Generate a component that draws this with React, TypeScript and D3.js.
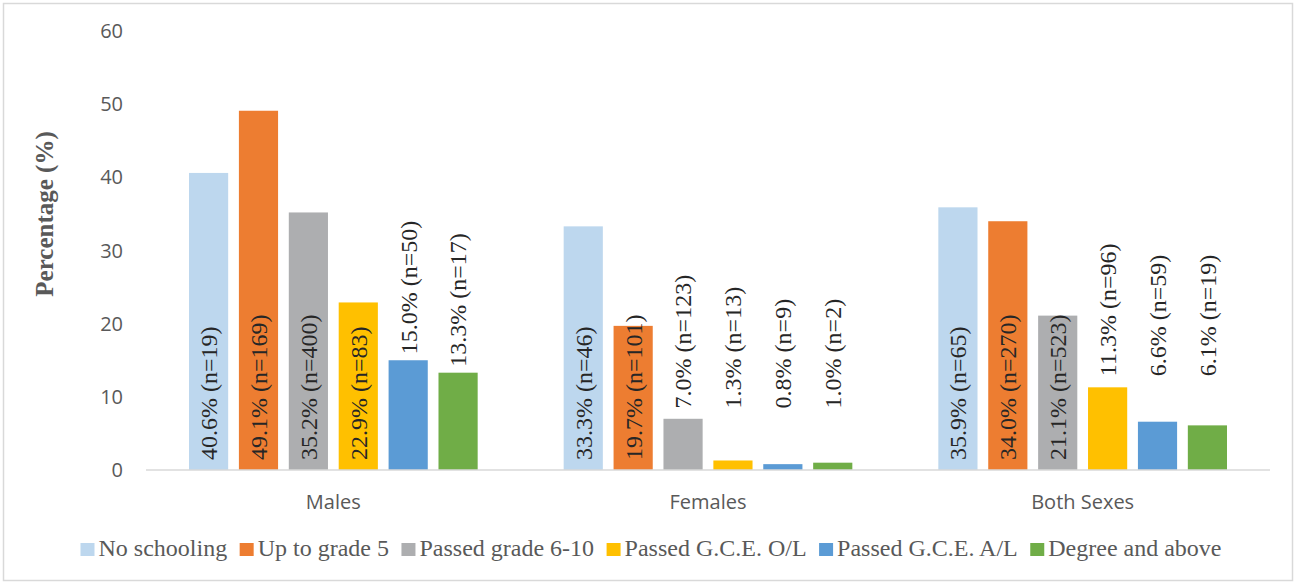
import React, { useEffect, useRef } from 'react';
import * as d3 from 'd3';

const groups = ['Males', 'Females', 'Both Sexes'];
const series = [
  'No schooling',
  'Up to grade 5',
  'Passed grade 6-10',
  'Passed G.C.E. O/L',
  'Passed G.C.E. A/L',
  'Degree and above',
];
const colors = ['#BDD7EE', '#ED7D31', '#ADAEB0', '#FFC000', '#5B9BD5', '#70AD47'];

const malesPct = [40.6, 49.1, 35.2, 22.9, 15.0, 13.3];
const femalesPct = [33.3, 19.7, 7.0, 1.3, 0.8, 1.0];
const bothPct = [35.9, 34.0, 21.1, 11.3, 6.6, 6.1];

const malesN = [19, 169, 400, 83, 50, 17];
const femalesN = [46, 101, 123, 13, 9, 2];
const bothN = [65, 270, 523, 96, 59, 19];

// level (in %) under which the outside labels of a group are not pushed down
const labelFloor = [0, 7.6, 12.0];

const yTicks = [0, 10, 20, 30, 40, 50, 60];

const W = 1296, H = 584;
const margin = { top: 31, right: 26, bottom: 114, left: 146 };
const SERIF = 'Liberation Serif, Tinos, DejaVu Serif, serif';
const SANS = 'Open Sans, sans-serif';

export default function App() {
  const legendRef = useRef<SVGGElement>(null);

  const pct = [malesPct, femalesPct, bothPct];
  const ns = [malesN, femalesN, bothN];

  const x0 = d3.scaleBand().domain(groups).range([margin.left, W - margin.right]);
  const x1 = d3.scaleBand().domain(series)
    .range([43, x0.bandwidth() - 43])
    .paddingInner(0.215);
  const y = d3.scaleLinear().domain([0, 60]).range([H - margin.bottom, margin.top]);

  useEffect(() => {
    const g = d3.select(legendRef.current);
    g.selectAll('*').remove();
    const items = g.selectAll('g.item').data(series).join('g').attr('class', 'item');
    items.append('rect')
      .attr('width', 14).attr('height', 13)
      .attr('y', -13)
      .attr('fill', (d, i) => colors[i]);
    items.append('text')
      .attr('x', 18)
      .attr('y', 0)
      .style('font-family', SERIF)
      .attr('font-size', 24)
      .attr('fill', '#595959')
      .text(d => d);
    let cx = 0;
    const gap = 12.5;
    items.each(function () {
      const t = d3.select(this).select('text').node() as SVGTextElement;
      d3.select(this).attr('transform', `translate(${cx},0)`);
      cx += 18 + t.getComputedTextLength() + gap;
    });
    const total = cx - gap;
    g.attr('transform', `translate(${(W - total) / 2 + 3}, 556)`);
  }, []);

  return (
    <svg width={W} height={H} style={{ position: 'absolute', left: 0, top: 0, background: '#fff' }}>
      <rect x={3.5} y={3.5} width={W - 7} height={H - 7} fill="#fff" stroke="#d9d9d9" strokeWidth={1.5} />

      {yTicks.map(t => (
        <text key={t} x={123} y={y(t)} dy="0.35em" textAnchor="end"
          style={{ fontFamily: SANS }} fontSize={20} fill="#595959">{t}</text>
      ))}

      <text transform={`translate(53, 214) rotate(-90)`} textAnchor="middle"
        style={{ fontFamily: SERIF }} fontWeight="bold"
        fontSize={25} fill="#595959">Percentage (%)</text>

      {groups.map((gname, gi) => (
        <g key={gname} transform={`translate(${x0(gname)},0)`}>
          {series.map((s, si) => {
            const v = pct[gi][si];
            const bx = x1(s)!;
            const cx = bx + x1.bandwidth() / 2;
            const inside = v >= 19;
            const ly = inside ? y(0) - 10 : y(Math.max(v, labelFloor[gi])) - 6;
            return (
              <g key={s}>
                <rect x={bx} y={y(v)} width={x1.bandwidth()} height={y(0) - y(v)} fill={colors[si]} />
                <text transform={`translate(${cx},${ly}) rotate(-90)`} dy="0.35em"
                  style={{ fontFamily: SERIF }} fontSize={24}
                  fill="#262626">{`${v.toFixed(1)}% (n=${ns[gi][si]})`}</text>
              </g>
            );
          })}
          <text x={x0.bandwidth() / 2} y={509} textAnchor="middle"
            style={{ fontFamily: SANS }} fontSize={20} fill="#595959">{gname}</text>
        </g>
      ))}

      <line x1={margin.left} x2={W - margin.right} y1={y(0)} y2={y(0)} stroke="#d9d9d9" strokeWidth={1.5} />

      <g ref={legendRef} />
    </svg>
  );
}
